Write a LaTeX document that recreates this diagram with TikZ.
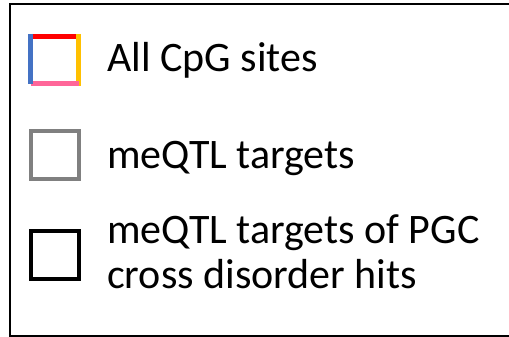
\documentclass[tikz,border=0pt]{standalone}
\usepackage{fontspec}
\setmainfont{Carlito}
\definecolor{cred}{HTML}{FF0000}
\definecolor{cyel}{HTML}{FFC000}
\definecolor{cpink}{HTML}{FF6699}
\definecolor{cblue}{HTML}{4472C4}
\definecolor{cgray}{HTML}{808080}
\begin{document}
\begin{tikzpicture}[x=1pt,y=-1pt,
  lbl/.style={anchor=base west,inner sep=0pt,align=left,font=\fontsize{42}{45}\selectfont},
  frame/.style={line width=2pt,draw=black},
  side/.style={line width=5pt},
  keybox/.style={line width=4pt,minimum size=48pt,inner sep=0pt,fill=white}]
\useasboundingbox (0,0) rectangle (509,337);
% frame
\coordinate (ftr) at (512,4.5);
\coordinate (ftl) at (10,4.5);
\coordinate (fbl) at (10,335.5);
\coordinate (fbr) at (512,335.5);
\draw[frame] (ftr) -- (ftl) -- (fbl) -- (fbr);
% all CpG square made of four coloured sides
\draw[side,cred] (30,36.5) -- (79,36.5);
\draw[side,cyel] (78,34) -- (78,86);
\draw[side,cpink] (31,84) -- (79,84);
\draw[side,cblue] (30.5,34) -- (30.5,84);
\node[lbl] (t1) at (107,72) {All CpG sites};
% meQTL targets
\node[keybox,draw=cgray] (b2) at (55,155) {};
\node[lbl] (t2) at (107,168) {meQTL targets};
% PGC
\node[keybox,draw=black] (b3) at (55,255) {};
\node[lbl] (t3) at (107,288) {meQTL targets of PGC\\cross disorder hits};
\end{tikzpicture}
\end{document}
